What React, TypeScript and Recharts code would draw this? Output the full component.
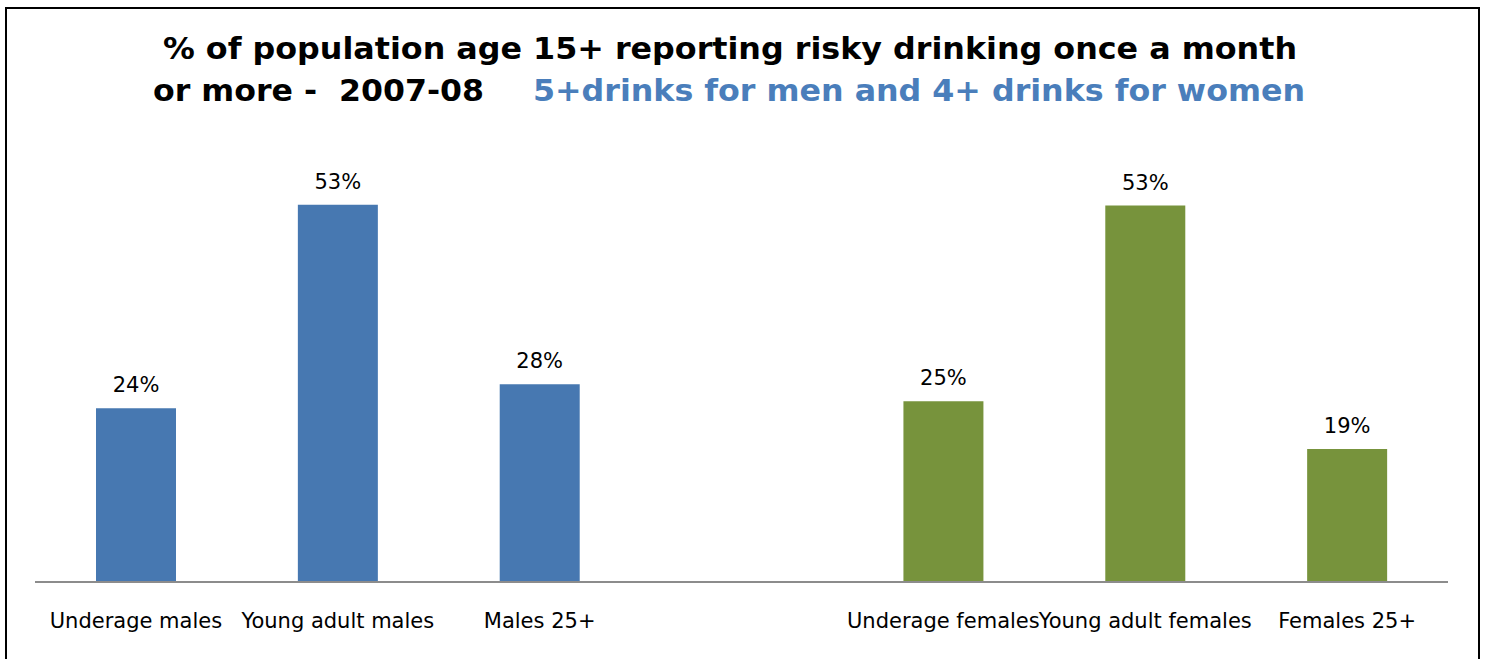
import React from "react";
import { BarChart, Bar, XAxis, YAxis, Cell, LabelList } from "recharts";

const categories = [
  "Underage males",
  "Young adult males",
  "Males 25+",
  "",
  "Underage females",
  "Young adult females",
  "Females 25+",
];
// percent of population, by group (gap slot is null)
const riskyDrinking = [24.4, 53.0, 27.8, null, 25.4, 52.9, 18.7];
const groupColors = ["#4778B1", "#4778B1", "#4778B1", "#ffffff", "#77933C", "#77933C", "#77933C"];

const titleLine1 = "% of population age 15+ reporting risky drinking once a month";
const titleLine2Black = "or more -  2007-08";
const titleLine2Blue = "5+drinks for men and 4+ drinks for women";

const chartData = categories.map((name, i) => ({
  name,
  value: riskyDrinking[i],
}));

const fontStack = "'DejaVu Sans', 'Noto Sans', sans-serif";

const App: React.FC = () => {
  return (
    <div style={{ position: "relative", width: 1486, height: 659, overflow: "hidden", background: "#fff" }}>
      <style>{`body{margin:0}`}</style>
      <div
        style={{
          position: "absolute",
          left: 5,
          top: 7,
          width: 1471,
          height: 700,
          border: "2px solid #000",
        }}
      />
      <svg width={1486} height={130} style={{ position: "absolute", left: 0, top: 0 }}>
        <text
          x={163}
          y={59}
          fontFamily={fontStack}
          fontWeight="bold"
          fontSize={30}
          fill="#000"
          textLength={1134}
          lengthAdjust="spacingAndGlyphs"
        >
          {titleLine1}
        </text>
        <text
          x={153}
          y={101}
          fontFamily={fontStack}
          fontWeight="bold"
          fontSize={30}
          fill="#000"
          textLength={331}
          lengthAdjust="spacingAndGlyphs"
          style={{ whiteSpace: "pre" }}
        >
          {titleLine2Black}
        </text>
        <text
          x={533}
          y={101}
          fontFamily={fontStack}
          fontWeight="bold"
          fontSize={30}
          fill="#4A7EBB"
          textLength={772}
          lengthAdjust="spacingAndGlyphs"
        >
          {titleLine2Blue}
        </text>
      </svg>
      <div style={{ position: "absolute", left: 0, top: 0 }}>
        <BarChart
          width={1486}
          height={659}
          data={chartData}
          margin={{ top: 155, right: 38, bottom: 17, left: 35 }}
          barCategoryGap={0}
        >
          <XAxis
            dataKey="name"
            interval={0}
            height={60}
            tickLine={false}
            axisLine={{ stroke: "#8C8C8C", strokeWidth: 2 }}
            tickMargin={25}
            tick={{ fill: "#000", fontSize: 21, fontFamily: fontStack }}
          />
          <YAxis hide domain={[0, 60]} />
          <Bar dataKey="value" barSize={80} isAnimationActive={false}>
            {chartData.map((entry, index) => (
              <Cell key={`cell-${index}`} fill={groupColors[index]} />
            ))}
            <LabelList
              dataKey="value"
              position="top"
              offset={16}
              fill="#000"
              fontSize={21}
              fontFamily={fontStack}
              formatter={(v: any) => (v == null ? "" : `${Math.round(Number(v))}%`)}
            />
          </Bar>
        </BarChart>
      </div>
    </div>
  );
};

export default App;
